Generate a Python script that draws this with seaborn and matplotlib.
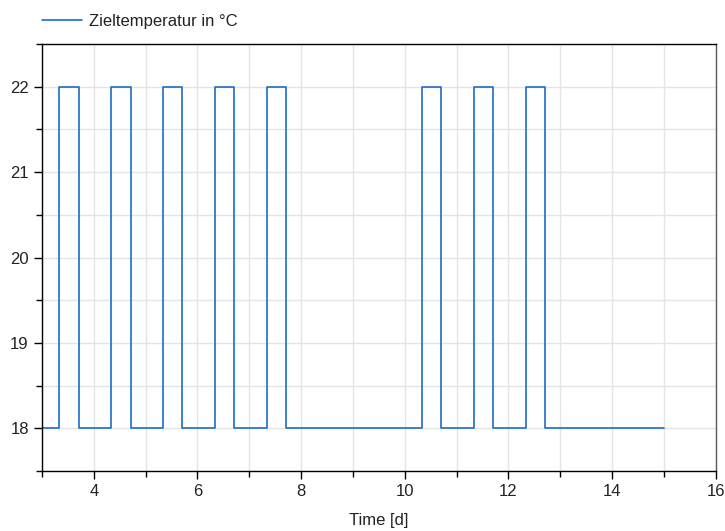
import matplotlib

matplotlib.use("Agg")
import matplotlib.pyplot as plt
import pandas as pd
import seaborn as sns
from matplotlib.ticker import MultipleLocator

# step breakpoints (time in days, target temperature in degC)
time_d = [3.0, 3.333, 3.708, 4.333, 4.708, 5.333, 5.708, 6.333, 6.708, 7.333, 7.708,
          10.333, 10.708, 11.333, 11.708, 12.333, 12.708, 15.0]
temp_c = [18, 22, 18, 22, 18, 22, 18, 22, 18, 22, 18,
          22, 18, 22, 18, 22, 18, 18]
series_label = "Zieltemperatur in °C"
x_label = "Time [d]"

sns.set_style("white")
plt.rcParams["font.family"] = ["Liberation Sans", "DejaVu Sans"]

frame = pd.DataFrame({"time": time_d, "temp": temp_c})

fig = plt.figure(figsize=(7.25, 5.31), dpi=100)
ax = fig.add_axes([0.058, 0.113, 0.929, 0.804])
sns.lineplot(data=frame, x="time", y="temp", ax=ax, color="#1c6cc8", linewidth=1.2,
             drawstyle="steps-post", label=series_label, estimator=None)

ax.set_xlim(3, 16)
ax.set_ylim(17.5, 22.5)
ax.xaxis.set_major_locator(MultipleLocator(2))
ax.xaxis.set_minor_locator(MultipleLocator(1))
ax.yaxis.set_major_locator(MultipleLocator(1))
ax.yaxis.set_minor_locator(MultipleLocator(0.5))
ax.grid(which="both", color="#e4e4e4", linewidth=1.0)
ax.set_axisbelow(True)
ax.tick_params(which="major", direction="out", length=6, width=1.0, color="black",
               labelsize=12, bottom=True, left=True, colors="#222222")
ax.tick_params(which="minor", direction="out", length=4.5, width=1.0, color="black",
               bottom=True, left=True)
for side in ["left", "bottom", "top"]:
    ax.spines[side].set_color("black")
    ax.spines[side].set_linewidth(1.0)
ax.spines["right"].set_color("#5a5a5a")
ax.spines["right"].set_linewidth(1.0)
ax.set_xlabel(x_label, fontsize=12, color="#222222", labelpad=10)
ax.set_ylabel("")
ax.legend(loc="lower left", bbox_to_anchor=(-0.015, 1.012), frameon=False, fontsize=12,
          handlelength=2.4, handletextpad=0.45, borderaxespad=0.2, labelcolor="#222222")

fig.savefig("out.png", dpi=100)
